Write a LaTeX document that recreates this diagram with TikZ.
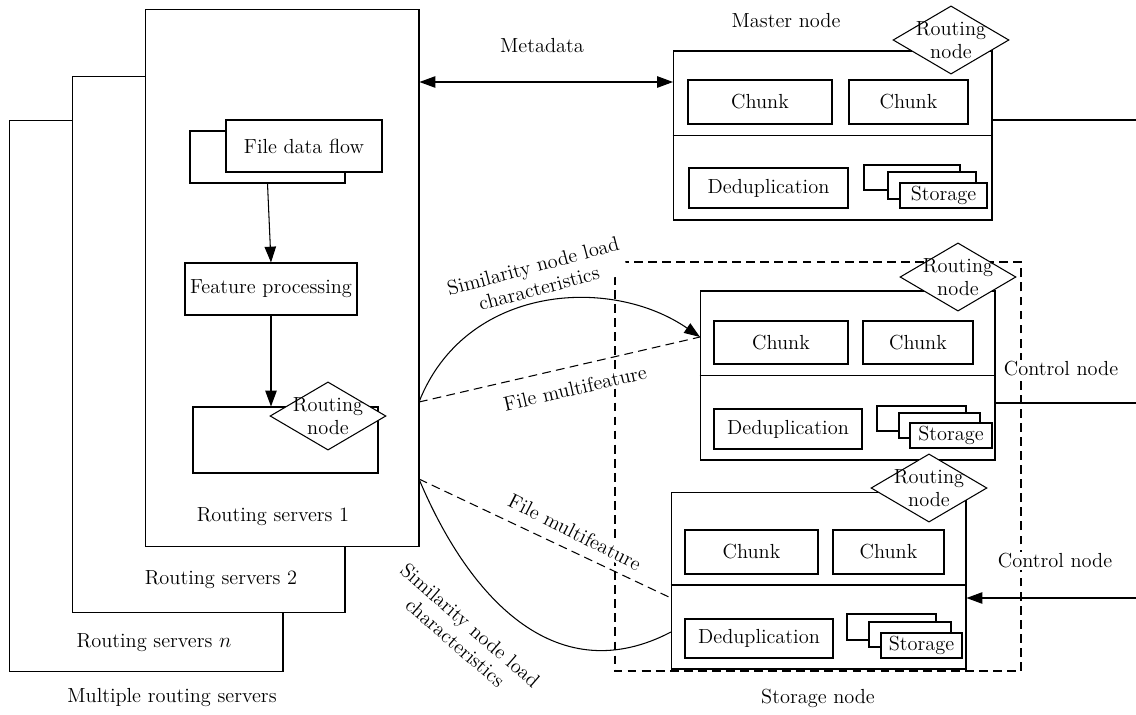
\documentclass[tikz,border=0pt]{standalone}
\usetikzlibrary{shapes.geometric,arrows.meta}

\begin{document}
\begin{tikzpicture}[x=0.02cm,y=-0.02cm,font=\fontsize{11.6}{13}\selectfont]
\tikzset{BoxStyle/.style =
	{draw,
		fill = white,
		inner sep = 0pt,
		line width = 0.6pt},
	RouteStyle/.style =
	{draw,
		shape = diamond,
		aspect = 1.7,
		fill = white,
		inner sep = -1.8pt,
		align = center,
		line width = 0.6pt},
	LabelStyle/.style = {fill = white, inner sep = 1pt, align = center},
	EdgeStyle/.style = {line width = 0.6pt},
	DashStyle/.style = {dash pattern = on 5pt off 3pt},
	ArrowStyle/.style = {-{Triangle[length=9pt,width=6.5pt]}}}
\useasboundingbox (0,0) rectangle (1136,714);
% routing servers
\node[BoxStyle, minimum width=5.48cm, minimum height=11.04cm] (rsn) at (146,396) {};
\node (rsnl) at (154,643) {Routing servers $n$};
\node[BoxStyle, minimum width=5.46cm, minimum height=10.74cm] (rs2) at (208.5,344.5) {};
\node (rs2l) at (221,580) {Routing servers 2};
\node[BoxStyle, minimum width=5.48cm, minimum height=10.76cm] (rs1) at (282,278) {};
\node (rs1l) at (273,517) {Routing servers 1};
\node (rsm) at (172,698) {Multiple routing servers};
\node[BoxStyle, minimum width=3.1cm, minimum height=1.04cm] (fdfb) at (267.5,157) {};
\node[BoxStyle, minimum width=3.12cm, minimum height=1.04cm] (fdf) at (304,146) {File data flow};
\node[BoxStyle, minimum width=3.44cm, minimum height=1.04cm] (feat) at (271,289) {Feature processing};
\node[BoxStyle, minimum width=3.7cm, minimum height=1.32cm] (rtb) at (285.5,440) {};
\node[RouteStyle] (rt0) at (328,416) {Routing\\node};
\draw[EdgeStyle, ArrowStyle] (fdfb.south) -- (feat.north);
\draw[EdgeStyle, ArrowStyle] (feat.south) -- (feat.south |- rtb.north);
% master node
\node (mnl) at (786,21) {Master node};
\node[BoxStyle, minimum width=6.38cm, minimum height=3.38cm] (mn) at (832.5,135.5) {};
\draw[EdgeStyle] (mn.west) -- (mn.east);
\node[BoxStyle, minimum width=2.88cm, minimum height=0.88cm] (mc1) at (760,102) {Chunk};
\node[BoxStyle, minimum width=2.38cm, minimum height=0.88cm] (mc2) at (908.5,102) {Chunk};
\node[BoxStyle, minimum width=3.18cm, minimum height=0.8cm] (md) at (768.5,188) {Deduplication};
\node[BoxStyle, minimum width=1.92cm, minimum height=0.5cm] (ms1) at (912,177.5) {};
\node[BoxStyle, minimum width=1.76cm, minimum height=0.54cm] (ms2) at (932,185.5) {};
\node[BoxStyle, minimum width=1.74cm, minimum height=0.5cm] (ms3) at (943.5,195.5) {Storage};
\node[RouteStyle] (mr) at (951,40) {Routing\\node};
% storage node
\draw[EdgeStyle, DashStyle] (615,262) rectangle (1021,671);
\node (snl) at (818,698) {Storage node};
\node[BoxStyle, minimum width=5.9cm, minimum height=3.38cm] (an) at (847.5,375.5) {};
\draw[EdgeStyle] (an.west) -- (an.east);
\node[BoxStyle, minimum width=2.68cm, minimum height=0.86cm] (ac1) at (781,342.5) {Chunk};
\node[BoxStyle, minimum width=2.2cm, minimum height=0.86cm] (ac2) at (918,342.5) {Chunk};
\node[BoxStyle, minimum width=2.96cm, minimum height=0.8cm] (ad) at (788,429) {Deduplication};
\node[BoxStyle, minimum width=1.78cm, minimum height=0.5cm] (as1) at (921.5,418.5) {};
\node[BoxStyle, minimum width=1.62cm, minimum height=0.5cm] (as2) at (939.5,425.5) {};
\node[BoxStyle, minimum width=1.64cm, minimum height=0.5cm] (as3) at (951,435.5) {Storage};
\node[RouteStyle] (ar) at (958,277) {Routing\\node};
\node[BoxStyle, minimum width=5.9cm, minimum height=3.54cm] (bn) at (818.5,580.5) {};
\draw[EdgeStyle] (bn.west |- 0,585) -- (bn.east |- 0,585);
\node[BoxStyle, minimum width=2.66cm, minimum height=0.88cm] (bc1) at (751.5,552) {Chunk};
\node[BoxStyle, minimum width=2.22cm, minimum height=0.88cm] (bc2) at (888.5,552) {Chunk};
\node[BoxStyle, minimum width=2.96cm, minimum height=0.78cm] (bd) at (759,638.5) {Deduplication};
\node[BoxStyle, minimum width=1.78cm, minimum height=0.52cm] (bs1) at (891.5,627) {};
\node[BoxStyle, minimum width=1.64cm, minimum height=0.5cm] (bs2) at (910,634.5) {};
\node[BoxStyle, minimum width=1.62cm, minimum height=0.5cm] (bs3) at (921.5,645.5) {Storage};
\node[RouteStyle] (br) at (929,488) {Routing\\node};
% labels
\node[LabelStyle] (cl1) at (1061,369) {Control node};
\node[LabelStyle] (cl2) at (1055,561) {Control node};
\node[LabelStyle, rotate=15] (sl1) at (536,277) {Similarity node load\\characteristics};
\node[LabelStyle, rotate=13] (fl1) at (575,388) {File multifeature};
\node[LabelStyle, rotate=-27] (fl2) at (575,532) {File multifeature};
\node[LabelStyle, rotate=-41] (sl2) at (463,634) {Similarity node load\\characteristics};
\node (mdl) at (542,46) {Metadata};
% connectors
\coordinate (ma) at (673,82);
\coordinate (p1) at (419,402);
\coordinate (q1) at (700,337);
\coordinate (p2) at (419,479);
\coordinate (q2) at (671,598);
\coordinate (q3) at (671,632);
\coordinate (rm) at (1136,120);
\coordinate (ra) at (1136,403);
\coordinate (rb) at (1136,598);
\draw[EdgeStyle, {Triangle[length=9pt,width=6.5pt]}-{Triangle[length=9pt,width=6.5pt]}] (rs1.east |- ma) -- (ma);
\draw[EdgeStyle, ArrowStyle] (p1) .. controls (465,285) and (610,275) .. (q1);
\draw[EdgeStyle, DashStyle] (p1) -- (q1);
\draw[EdgeStyle, DashStyle] (p2) -- (q2);
\draw[EdgeStyle] (p2) .. controls (472,605) and (560,690) .. (q3);
\draw[EdgeStyle] (mn.east |- rm) -- (rm);
\draw[EdgeStyle] (an.east |- ra) -- (ra);
\draw[EdgeStyle, ArrowStyle] (rb) -- (bn.east |- rb);
\end{tikzpicture}
\end{document}
